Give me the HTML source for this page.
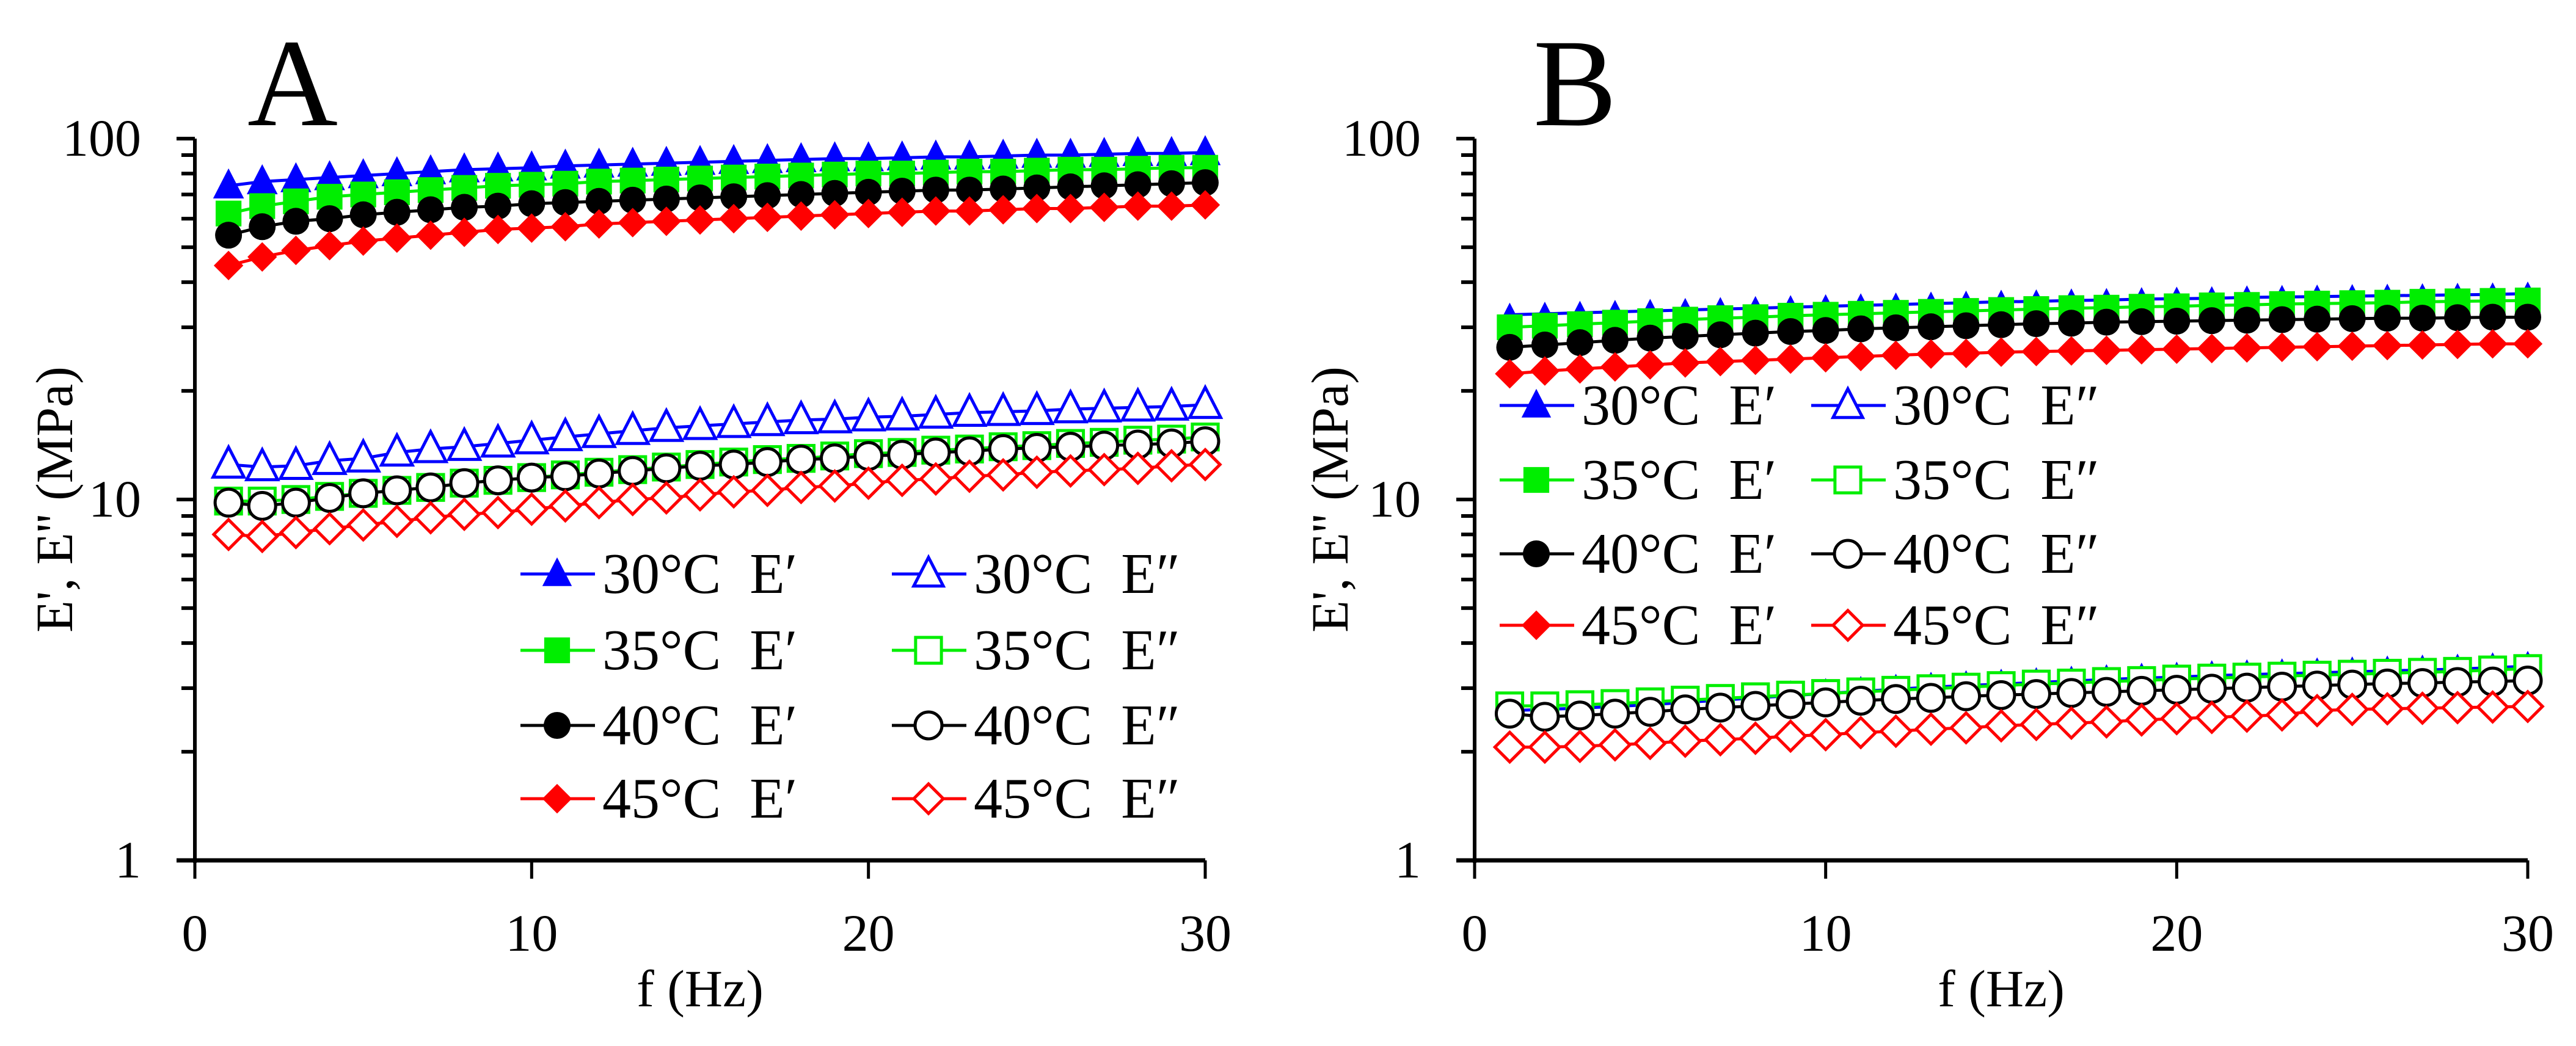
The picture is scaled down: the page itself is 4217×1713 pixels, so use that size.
<!DOCTYPE html>
<html><head><meta charset="utf-8">
<style>
html,body{margin:0;padding:0;background:#fff;}
svg{display:block;font-family:"Liberation Serif",serif;}
text{white-space:pre;}
</style></head>
<body>
<svg id="fig" width="4217" height="1713" viewBox="0 0 4217 1713" xmlns="http://www.w3.org/2000/svg">
<rect width="4217" height="1713" fill="#fff"/>
</svg>
<script>
const freqs = [1,2,3,4,5,6,7,8,9,10,11,12,13,14,15,16,17,18,19,20,21,22,23,24,25,26,27,28,29,30];
const xTicks = [0,10,20,30];
const yTicks = [1,10,100];
const yTickLabels = ["1","10","100"];

const a30E1 = [74,76,77,78,79,80,81,82,82.5,83,84,84.5,85,85.5,86,86.5,87,87.5,88,88,88.5,89,89,89.5,90,90,90.5,91,91,91.5];
const a35E1 = [62,65,67,69,70,71,72,73,74,74.5,75,76,76.5,77,77.5,78,78.5,79,79.5,80,80,80.5,81,81,81.5,82,82,82.5,83,83];
const a40E1 = [54,57,59,60,61.5,62.5,63.5,64.5,65,66,66.5,67,67.5,68,68.5,69,69.5,70,70.5,71,71.5,72,72,72.5,73,73.5,74,74.5,75,75.5];
const a45E1 = [44.5,47,49,50.5,52,53,54,55,56,56.5,57,58,58.5,59,59.5,60,60.5,61,61.5,62,62.5,63,63,63.5,64,64,64.5,65,65,65.5];
const a30E2 = [12.5,12.3,12.4,12.8,13.0,13.5,13.8,14.0,14.3,14.6,14.9,15.2,15.5,15.8,16.0,16.2,16.4,16.6,16.7,16.9,17.0,17.2,17.4,17.5,17.6,17.8,17.9,18.0,18.1,18.3];
const a35E2 = [9.9,9.9,10.0,10.2,10.4,10.6,10.8,11.1,11.3,11.5,11.7,11.9,12.1,12.3,12.5,12.7,12.9,13.0,13.2,13.4,13.5,13.7,13.8,14.0,14.1,14.3,14.4,14.6,14.7,14.9];
const a40E2 = [9.8,9.6,9.8,10.1,10.4,10.6,10.8,11.1,11.3,11.5,11.6,11.8,12.0,12.2,12.4,12.5,12.7,12.9,13.0,13.2,13.3,13.5,13.6,13.8,13.9,14.0,14.1,14.2,14.3,14.5];
const a45E2 = [8.0,7.9,8.1,8.3,8.5,8.7,8.9,9.1,9.2,9.4,9.6,9.8,10.0,10.1,10.3,10.5,10.6,10.8,10.9,11.1,11.3,11.4,11.6,11.7,11.9,12.0,12.1,12.2,12.4,12.5];

const b30E1 = [32.5,32.7,32.9,33.1,33.3,33.5,33.7,33.9,34.1,34.3,34.5,34.7,34.9,35.1,35.3,35.4,35.6,35.7,35.9,36.0,36.1,36.3,36.4,36.5,36.6,36.7,36.8,36.9,37.0,37.2];
const b35E1 = [30.0,30.3,30.6,30.9,31.2,31.5,31.8,32.0,32.3,32.5,32.7,32.9,33.1,33.3,33.5,33.7,33.9,34.0,34.2,34.3,34.5,34.6,34.8,34.9,35.0,35.1,35.3,35.4,35.5,35.6];
const b40E1 = [26.4,26.8,27.2,27.6,28.0,28.3,28.6,28.9,29.2,29.4,29.7,29.9,30.1,30.3,30.5,30.7,30.8,31.0,31.1,31.2,31.3,31.4,31.5,31.6,31.7,31.8,31.8,31.9,32.0,32.0];
const b45E1 = [22.3,22.7,23.0,23.3,23.6,23.9,24.1,24.3,24.5,24.7,24.9,25.1,25.3,25.4,25.6,25.7,25.8,25.9,26.0,26.1,26.2,26.3,26.4,26.5,26.6,26.7,26.8,26.9,27.0,27.0];
const b30E2 = [2.60,2.62,2.64,2.67,2.70,2.74,2.78,2.82,2.86,2.90,2.94,2.98,3.02,3.05,3.08,3.11,3.14,3.17,3.20,3.22,3.25,3.27,3.29,3.31,3.33,3.35,3.37,3.39,3.42,3.45];
const b35E2 = [2.68,2.68,2.70,2.72,2.75,2.78,2.81,2.84,2.87,2.90,2.93,2.96,2.99,3.02,3.05,3.08,3.10,3.13,3.15,3.18,3.20,3.22,3.24,3.26,3.28,3.30,3.32,3.34,3.37,3.40];
const b40E2 = [2.55,2.50,2.52,2.55,2.58,2.62,2.65,2.68,2.71,2.74,2.77,2.80,2.82,2.85,2.87,2.89,2.91,2.93,2.95,2.97,2.99,3.01,3.03,3.05,3.07,3.09,3.10,3.12,3.13,3.15];
const b45E2 = [2.06,2.06,2.07,2.09,2.11,2.14,2.16,2.18,2.21,2.23,2.26,2.28,2.31,2.33,2.36,2.38,2.40,2.42,2.45,2.47,2.49,2.51,2.53,2.60,2.62,2.63,2.64,2.65,2.66,2.67];

const NS = "http://www.w3.org/2000/svg";
const svg = document.getElementById('fig');
function mk(tag, attrs, parent){
  const e = document.createElementNS(NS, tag);
  for (const k in attrs) e.setAttribute(k, attrs[k]);
  (parent||svg).appendChild(e);
  return e;
}
function marker(g, shape, filled, color, cx, cy, s){
  const fill = filled ? color : '#fff';
  const sw = filled ? 0 : 5;
  let m;
  if (shape==='tri'){
    const h=s*1.0;
    m = mk('polygon',{points:`${cx},${cy-h*0.62} ${cx-s*0.55},${cy+h*0.45} ${cx+s*0.55},${cy+h*0.45}`,fill:fill,stroke:color,'stroke-width':sw},g);
  } else if (shape==='sq'){
    const r=s*0.48;
    m = mk('rect',{x:cx-r,y:cy-r,width:2*r,height:2*r,fill:fill,stroke:color,'stroke-width':sw},g);
  } else if (shape==='circ'){
    m = mk('circle',{cx:cx,cy:cy,r:s*0.5,fill:fill,stroke:color,'stroke-width':sw},g);
  } else {
    const r=s*0.55;
    m = mk('polygon',{points:`${cx},${cy-r} ${cx+r},${cy} ${cx},${cy+r} ${cx-r},${cy}`,fill:fill,stroke:color,'stroke-width':sw},g);
  }
  return m;
}

function panel(cfg){
  const g = mk('g',{});
  
  
  const X = v => cfg.x0 + (v/30)*(cfg.x30-cfg.x0);
  const Y = v => cfg.y1 - Math.log10(v)*(cfg.y1-cfg.y100)/2;

  cfg.series.forEach(s=>{
    const sg = mk('g',{},g);
    
    
    const pts = freqs.map((f,i)=>`${X(f).toFixed(1)},${Y(s.data[i]).toFixed(1)}`).join(' ');
    const pl = mk('polyline',{points:pts,fill:'none',stroke:s.color,'stroke-width':5},sg);
    
    
    freqs.forEach((f,i)=>{
      const m = marker(sg, s.shape, s.filled, s.color, X(f), Y(s.data[i]), s.shape==='tri'?cfg.triSize:44);
      
      
    });
  });

  const ya = mk('line',{x1:cfg.x0,y1:cfg.y100,x2:cfg.x0,y2:cfg.y1+4,stroke:'#000','stroke-width':6},g);
  
  
  const xa = mk('line',{x1:cfg.x0-30,y1:cfg.y1,x2:cfg.x30,y2:cfg.y1,stroke:'#000','stroke-width':7},g);
  
  

  yTicks.forEach((v,i)=>{
    const y = Y(v);
    mk('line',{x1:cfg.x0-30,y1:y,x2:cfg.x0,y2:y,stroke:'#000','stroke-width':6},g);
    const t = mk('text',{x:cfg.x0-88,y:y+28,'text-anchor':'end','font-size':86},g);
    t.textContent = yTickLabels[i];
    
    
  });
  [1,10].forEach(dec=>{
    for(let k=2;k<=9;k++){
      const y=Y(dec*k);
      mk('line',{x1:cfg.x0-22,y1:y,x2:cfg.x0,y2:y,stroke:'#000','stroke-width':6},g);
    }
  });
  xTicks.forEach(v=>{
    const x = X(v);
    mk('line',{x1:x,y1:cfg.y1,x2:x,y2:cfg.y1+30,stroke:'#000','stroke-width':5},g);
    const t = mk('text',{x:x,y:cfg.y1+148,'text-anchor':'middle','font-size':86},g);
    t.textContent = String(v);
    
    
  });
  const xt = mk('text',{x:(cfg.x0+cfg.x30)/2,y:1648,'text-anchor':'middle','font-size':86},g);
  xt.textContent = 'f (Hz)';
  
  
  const yt = mk('text',{x:0,y:0,'text-anchor':'middle','font-size':86,transform:`translate(${cfg.ylabX},${(cfg.y100+cfg.y1)/2}) rotate(-90)`},g);
  yt.textContent = "E', E'' (MPa)";
  
  
  const pt = mk('text',{x:cfg.titleX,y:205,'font-size':205},g);
  pt.textContent = cfg.title;
  
  

  const lg = mk('g',{},g);
  
  
  cfg.series.forEach((s,i)=>{
    const col = i<4?0:1, row = i%4;
    const lx = cfg.legX[col], ly = cfg.legY[row];
    const eg = mk('g',{},lg);
    
    
    mk('line',{x1:lx,y1:ly,x2:lx+122,y2:ly,stroke:s.color,'stroke-width':5},eg);
    marker(eg, s.shape, s.filled, s.color, lx+60, ly, 44);
    const t = mk('text',{x:lx+134,y:ly+31,'font-size':94},eg);
    t.textContent = s.label;
  });
}

function seriesList(p, d){
  return [
    {id:p+'-30c-e1',label:'30°C  E′',color:'#0000ff',shape:'tri',filled:true,data:d[0]},
    {id:p+'-35c-e1',label:'35°C  E′',color:'#00ee00',shape:'sq',filled:true,data:d[1]},
    {id:p+'-40c-e1',label:'40°C  E′',color:'#000000',shape:'circ',filled:true,data:d[2]},
    {id:p+'-45c-e1',label:'45°C  E′',color:'#ff0000',shape:'dia',filled:true,data:d[3]},
    {id:p+'-30c-e2',label:'30°C  E″',color:'#0000ff',shape:'tri',filled:false,data:d[4]},
    {id:p+'-35c-e2',label:'35°C  E″',color:'#00ee00',shape:'sq',filled:false,data:d[5]},
    {id:p+'-40c-e2',label:'40°C  E″',color:'#000000',shape:'circ',filled:false,data:d[6]},
    {id:p+'-45c-e2',label:'45°C  E″',color:'#ff0000',shape:'dia',filled:false,data:d[7]},
  ];
}

panel({name:'panel-a',title:'A',titleX:405,x0:319,x30:1973,y100:227,y1:1409,ylabX:118,triSize:46,
  legX:[852,1460],legY:[940,1065,1188,1308],
  series:seriesList('a',[a30E1,a35E1,a40E1,a45E1,a30E2,a35E2,a40E2,a45E2])});
panel({name:'panel-b',title:'B',titleX:2510,x0:2414,x30:4138,y100:227,y1:1409,ylabX:2206,triSize:32,
  legX:[2455,2965],legY:[664,786,907,1024],
  series:seriesList('b',[b30E1,b35E1,b40E1,b45E1,b30E2,b35E2,b40E2,b45E2])});
</script>
</body></html>
